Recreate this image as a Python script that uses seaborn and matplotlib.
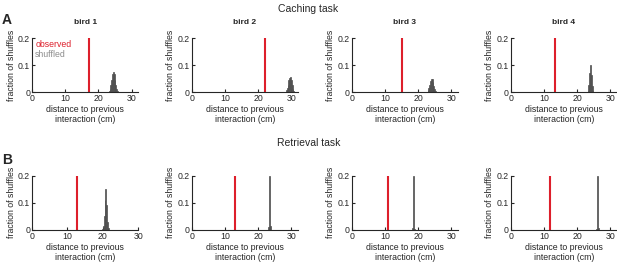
import numpy as np
import pandas as pd
import matplotlib
matplotlib.use('Agg')
import matplotlib.pyplot as plt
import seaborn as sns

birds = ['bird 1', 'bird 2', 'bird 3', 'bird 4']

caching_observed = [17.3, 22.1, 15.2, 13.4]
caching_centers = [
    [23.0, 23.25, 23.5, 23.75, 24.0, 24.25, 24.5, 24.75, 25.0, 25.25, 25.5, 25.75],
    [28.25, 28.5, 28.75, 29.0, 29.25, 29.5, 29.75, 30.0, 30.25, 30.5, 30.75],
    [22.75, 23.0, 23.25, 23.5, 23.75, 24.0, 24.25, 24.5, 24.75, 25.0, 25.25, 25.5],
    [23.25, 23.5, 23.75, 24.0, 24.25, 24.5, 24.75],
]
caching_frac = [
    [0.002, 0.005, 0.012, 0.025, 0.045, 0.066, 0.075, 0.066, 0.046, 0.026, 0.011, 0.003],
    [0.002, 0.006, 0.014, 0.028, 0.043, 0.053, 0.055, 0.044, 0.026, 0.010, 0.003],
    [0.002, 0.006, 0.014, 0.027, 0.041, 0.050, 0.047, 0.036, 0.022, 0.010, 0.004, 0.001],
    [0.004, 0.025, 0.070, 0.100, 0.065, 0.022, 0.004],
]

retrieval_observed = [12.7, 13.0, 10.8, 11.9]
retrieval_centers = [
    [19.875, 20.125, 20.375, 20.625, 20.875, 21.125, 21.375, 21.625],
    [23.2, 23.5, 23.8],
    [18.4, 18.7, 19.0],
    [25.9, 26.2, 26.5],
]
retrieval_frac = [
    [0.004, 0.015, 0.050, 0.110, 0.150, 0.090, 0.030, 0.006],
    [0.010, 0.200, 0.015],
    [0.005, 0.200, 0.004],
    [0.004, 0.200, 0.006],
]

xlims_caching = [32, 32, 32, 32]
xlims_retrieval = [30, 32, 32, 32]
retrieval_binw = [0.25, 0.3, 0.3, 0.3]

RED = '#dd1f2b'
GRAY = '#4f4f4f'

sns.set_style('ticks')
plt.rcParams['font.family'] = ['Liberation Sans', 'DejaVu Sans']
plt.rcParams['axes.linewidth'] = 0.8
plt.rcParams['xtick.major.width'] = 0.8
plt.rcParams['ytick.major.width'] = 0.8

fig = plt.figure(figsize=(6.17, 2.63), dpi=100)

lefts = [0.052, 0.311, 0.570, 0.828]
row_bottoms = [0.650, 0.127]
width = 0.172
height = 0.205


def draw_panel(ax, centers, frac, observed, xmax, binw, title=None):
    df = pd.DataFrame({'dist': centers, 'frac': frac})
    lo = centers[0] - binw / 2
    hi = centers[-1] + binw / 2
    sns.histplot(data=df, x='dist', weights='frac', binwidth=binw,
                 binrange=(lo, hi), ax=ax, color=GRAY,
                 alpha=1, linewidth=0.5, edgecolor=GRAY, element='bars')
    ax.vlines(observed, 0, 0.2, color=RED, linewidth=1.5)
    ax.set_xlim(0, xmax)
    ax.set_ylim(0, 0.2)
    ax.set_xticks([0, 10, 20, 30])
    ax.set_yticks([0, 0.1, 0.2])
    ax.set_yticklabels(['0', '0.1', '0.2'])
    ax.tick_params(direction='in', length=2, labelsize=6.3, pad=1.5)
    ax.set_xlabel('distance to previous\ninteraction (cm)', fontsize=6.3,
                  labelpad=1.5, linespacing=1.15)
    ax.set_ylabel('fraction of shuffles', fontsize=6.3, labelpad=1.5)
    sns.despine(ax=ax)
    if title:
        ax.set_title(title, fontsize=6, fontweight='bold', pad=10)


for i in range(4):
    ax = fig.add_axes([lefts[i], row_bottoms[0], width, height])
    draw_panel(ax, caching_centers[i], caching_frac[i], caching_observed[i],
               xlims_caching[i], 0.25, birds[i])
    if i == 0:
        ax.text(0.03, 0.96, 'observed', color=RED, fontsize=6.3,
                transform=ax.transAxes, va='top')
        ax.text(0.03, 0.78, 'shuffled', color='#8c8c8c', fontsize=6.3,
                transform=ax.transAxes, va='top')

for i in range(4):
    ax = fig.add_axes([lefts[i], row_bottoms[1], width, height])
    draw_panel(ax, retrieval_centers[i], retrieval_frac[i], retrieval_observed[i],
               xlims_retrieval[i], retrieval_binw[i])

fig.text(0.5, 0.985, 'Caching task', ha='center', va='top', fontsize=7.5)
fig.text(0.5, 0.475, 'Retrieval task', ha='center', va='top', fontsize=7.5)
fig.text(0.003, 0.95, 'A', fontsize=10, fontweight='bold', va='top')
fig.text(0.003, 0.42, 'B', fontsize=10, fontweight='bold', va='top')

fig.savefig('out.png', dpi=100)
